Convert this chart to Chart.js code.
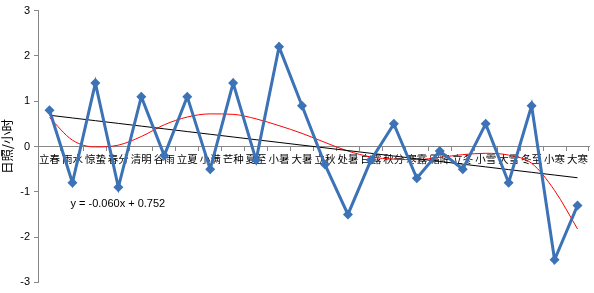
<!DOCTYPE html>
<html>
<head>
<meta charset="utf-8">
<script src="https://cdn.jsdelivr.net/npm/chart.js@4/dist/chart.umd.min.js"></script>
<style>
  html, body { margin: 0; padding: 0; background: #ffffff; }
  #wrap { width: 594px; height: 293px; position: relative; }
</style>
</head>
<body>
<div id="wrap"><canvas id="c" width="594" height="293"></canvas></div>
<script>
// Categories: the 24 solar terms
const categories = ['立春','雨水','惊蛰','春分','清明','谷雨','立夏','小满','芒种','夏至','小暑','大暑',
                    '立秋','处暑','白露','秋分','寒露','霜降','立冬','小雪','大雪','冬至','小寒','大寒'];
// Sunshine anomaly (hours)
const sunshine = [0.8, -0.8, 1.4, -0.9, 1.1, -0.2, 1.1, -0.5, 1.4, -0.3, 2.2, 0.9,
                  -0.4, -1.5, -0.3, 0.5, -0.7, -0.1, -0.5, 0.5, -0.8, 0.9, -2.5, -1.3];
// Linear trend line (y = -0.060x + 0.752), values as shown in the picture
const linearTrend = [0.69, 0.63, 0.57, 0.51, 0.45, 0.39, 0.33, 0.27, 0.21, 0.15, 0.09, 0.03,
                     -0.03, -0.09, -0.15, -0.21, -0.27, -0.33, -0.39, -0.45, -0.51, -0.57, -0.63, -0.69];
// Polynomial trend curve
const polyTrend = [0.64, 0.14, -0.01, 0.03, 0.22, 0.48, 0.65, 0.72, 0.71, 0.61, 0.46, 0.29,
                   0.09, -0.10, -0.23, -0.28, -0.29, -0.24, -0.18, -0.15, -0.19, -0.37, -0.97, -1.82];
// Y-axis ticks
const yTicks = [-3, -2, -1, 0, 1, 2, 3];
const yTitle = '日照/小时';
const equationText = 'y = -0.060x + 0.752';

const equationPlugin = {
  id: 'equation',
  afterDatasetsDraw(chart) {
    const ctx = chart.ctx;
    const xs = chart.scales.x, ys = chart.scales.y;
    ctx.save();
    ctx.font = '11px "Liberation Sans", Arial, sans-serif';
    ctx.fillStyle = '#000000';
    ctx.textAlign = 'left';
    ctx.textBaseline = 'middle';
    ctx.fillText(equationText, xs.getPixelForValue(1) - 2, ys.getPixelForValue(-1.27));
    ctx.restore();
  }
};

new Chart(document.getElementById('c'), {
  type: 'line',
  data: {
    labels: categories,
    datasets: [
      {
        label: 'sunshine',
        data: sunshine,
        borderColor: '#3C72B6',
        backgroundColor: '#3C72B6',
        borderWidth: 3,
        pointStyle: 'rectRot',
        pointRadius: 5,
        pointHoverRadius: 5,
        pointBorderWidth: 0,
        tension: 0,
        order: 1
      },
      {
        label: 'linear',
        data: linearTrend,
        borderColor: '#000000',
        borderWidth: 1,
        pointRadius: 0,
        tension: 0,
        order: 2
      },
      {
        label: 'poly',
        data: polyTrend,
        borderColor: '#FF0000',
        borderWidth: 1,
        pointRadius: 0,
        cubicInterpolationMode: 'monotone',
        order: 3
      }
    ]
  },
  options: {
    responsive: false,
    animation: false,
    devicePixelRatio: 1,
    layout: { padding: { left: 0, right: 3, top: 0, bottom: 0 } },
    plugins: {
      legend: { display: false },
      tooltip: { enabled: false }
    },
    scales: {
      x: {
        type: 'category',
        position: { y: 0 },
        offset: true,
        border: { display: true, color: '#888888', width: 1 },
        grid: {
          display: true,
          offset: true,
          drawOnChartArea: false,
          drawTicks: true,
          tickLength: 4,
          color: '#888888'
        },
        ticks: {
          autoSkip: false,
          maxRotation: 0,
          minRotation: 0,
          padding: 2,
          color: '#000000',
          font: { family: '"Noto Sans CJK SC", sans-serif', size: 10.5 }
        }
      },
      y: {
        min: -3,
        max: 3,
        afterFit(scale) { scale.width = 38; },
        afterBuildTicks(scale) { scale.ticks = yTicks.map(v => ({ value: v })); },
        border: { display: true, color: '#888888', width: 1 },
        grid: {
          display: true,
          drawOnChartArea: false,
          drawTicks: true,
          tickLength: 4,
          color: '#888888'
        },
        ticks: {
          padding: 4,
          color: '#000000',
          font: { family: '"Liberation Sans", Arial, sans-serif', size: 11 }
        },
        title: {
          display: true,
          text: yTitle,
          color: '#000000',
          padding: { top: 0, bottom: 2 },
          font: { family: '"Noto Sans CJK SC", sans-serif', size: 12.5 }
        }
      }
    }
  },
  plugins: [equationPlugin]
});
</script>
</body>
</html>
